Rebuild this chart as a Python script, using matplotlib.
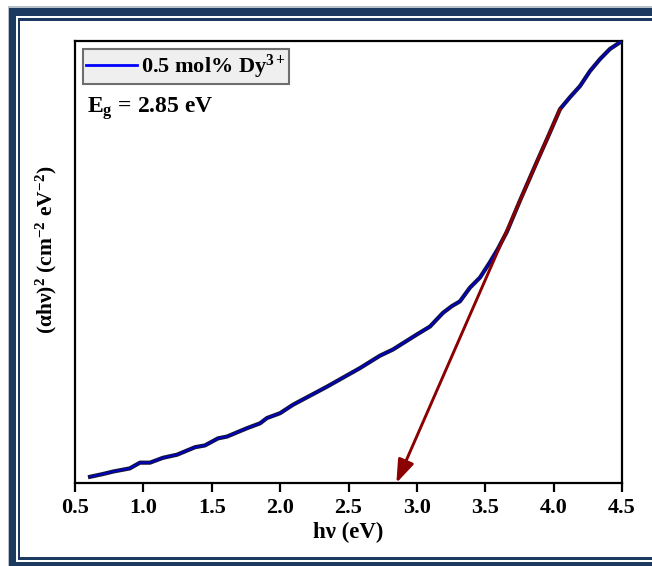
import matplotlib
matplotlib.use("Agg")
import matplotlib.pyplot as plt
import matplotlib.patheffects as pe
from matplotlib.patches import Rectangle

# Tauc plot data (y in arbitrary units)
photon_energy = [0.61, 0.70, 0.78, 0.90, 0.975, 1.048, 1.143, 1.246, 1.378, 1.45,
                 1.546, 1.611, 1.758, 1.853, 1.904, 2.0, 2.094, 2.343, 2.584,
                 2.73, 2.825, 3.0, 3.096, 3.191, 3.255, 3.315, 3.388, 3.462,
                 3.535, 3.593, 3.659, 3.754, 3.878, 3.96, 4.047, 4.12, 4.193,
                 4.266, 4.339, 4.412, 4.5]
absorption_sq = [1.4, 2.0, 2.6, 3.3, 4.6, 4.6, 5.7, 6.4, 8.1, 8.5,
                 10.1, 10.5, 12.4, 13.5, 14.7, 15.8, 17.7, 21.8, 26.0,
                 28.8, 30.2, 33.6, 35.4, 38.5, 40.0, 41.1, 44.2, 46.5,
                 50.0, 53.0, 56.9, 63.9, 72.7, 78.4, 84.6, 87.3, 89.8,
                 93.2, 95.9, 98.2, 100.0]

# tangent line used for the band gap extrapolation
band_gap = 2.85
tangent_top = (4.047, 84.6)

x_ticks = [0.5, 1.0, 1.5, 2.0, 2.5, 3.0, 3.5, 4.0, 4.5]

plt.rcParams['font.family'] = 'Liberation Serif'
plt.rcParams['font.weight'] = 'bold'
plt.rcParams['mathtext.fontset'] = 'custom'
plt.rcParams['mathtext.rm'] = 'Liberation Serif:bold'
plt.rcParams['mathtext.it'] = 'Liberation Serif:bold'
plt.rcParams['mathtext.bf'] = 'Liberation Serif:bold'
plt.rcParams['mathtext.default'] = 'rm'

W, H = 652, 566
fig = plt.figure(figsize=(W / 100, H / 100), dpi=100)


def px_rect(x0, y0, x1, y1, color):
    """Filled rectangle given in pixel coords (origin top-left)."""
    fig.patches.append(Rectangle((x0 / W, 1 - y1 / H), (x1 - x0) / W, (y1 - y0) / H,
                                 transform=fig.transFigure, facecolor=color,
                                 edgecolor='none', zorder=0))


navy = '#1c3a60'
# outer thick frame
px_rect(9, 8, W, 16, navy)
px_rect(9, 8, 16, H, navy)
px_rect(9, 562, W, H, navy)
# inner thin frame
px_rect(18, 18, W, 21, navy)
px_rect(18, 18, 20, 560, navy)
px_rect(18, 557, W, 560, navy)
# faint grey outline
px_rect(8, 6.5, W, 8, '#b8c0c8')
px_rect(7.5, 7, 9, H, '#b8c0c8')

ax = fig.add_axes([75 / W, (H - 483) / H, (622 - 75) / W, (483 - 41) / H])

ax.plot(photon_energy, absorption_sq, color='#0000c8', lw=1.3, zorder=3,
        path_effects=[pe.Stroke(linewidth=3.0, foreground='#14143a'), pe.Normal()])

ax.annotate('', xy=(band_gap, 0), xytext=tangent_top,
            arrowprops=dict(arrowstyle='-|>,head_length=0.7,head_width=0.25',
                            color='#8b0000', lw=2.1, mutation_scale=20,
                            shrinkA=0, shrinkB=0), zorder=4)

ax.set_xlim(0.5, 4.5)
ax.set_ylim(0, 100)
ax.set_xticks(x_ticks)
ax.set_xticklabels([f'{t:.1f}' for t in x_ticks])
ax.set_yticks([])
ax.tick_params(axis='x', direction='out', length=6.5, width=1.6, labelsize=16, pad=4)
for s in ax.spines.values():
    s.set_linewidth(1.6)

ax.set_xlabel('hν (eV)', fontsize=16.5, fontweight='bold', labelpad=3)
fig.text(46 / W, 1 - 250 / H, '(αhν)$^2$ (cm$^{-2}$ eV$^{-2}$)', rotation=90,
         fontsize=15.5, fontweight='bold', ha='center', va='center')

leg_handle = plt.Line2D([], [], color='#0000ff', lw=2)
leg = ax.legend([leg_handle], ['0.5 mol% Dy$^{3+}$'], loc='upper left',
                bbox_to_anchor=(8 / 547, 1 - 8 / 442), borderaxespad=0,
                fontsize=16, handlelength=2.3, handletextpad=0.15,
                borderpad=0.15, fancybox=False, framealpha=1, shadow=False)
leg.get_frame().set_facecolor('#efefef')
leg.get_frame().set_edgecolor('#6e6e6e')
leg.get_frame().set_linewidth(1.5)

ax.text(12 / 547, (483 - 113) / 442, 'E$_g$ = 2.85 eV', transform=ax.transAxes,
        fontsize=17, fontweight='bold', ha='left', va='baseline')

fig.savefig('out.png', dpi=100)
